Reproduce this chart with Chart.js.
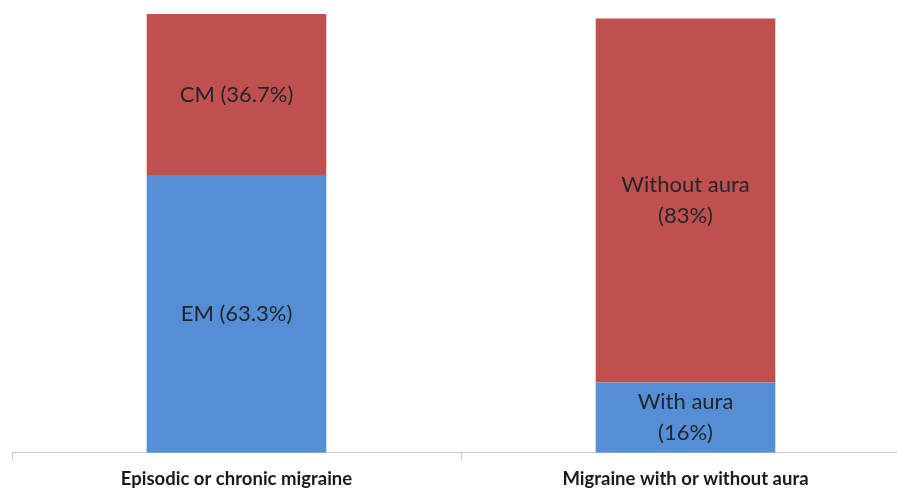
<!DOCTYPE html>
<html>
<head>
<meta charset="utf-8">
<script src="https://cdn.jsdelivr.net/npm/chart.js@4"></script>
<style>
  html, body { margin: 0; padding: 0; background: #fff; overflow: hidden; }
  #wrap { width: 897px; height: 490px; position: relative; overflow: hidden; }
</style>
</head>
<body>
<div id="wrap"><canvas id="c" width="910" height="502"></canvas></div>
<script>
// Migraine classification shares (%)
const categories = ['Episodic or chronic migraine', 'Migraine with or without aura'];
const lowerValues = [63.3, 16];
const upperValues = [36.7, 83];
const lowerLabels = [['EM (63.3%)'], ['With aura', '(16%)']];
const upperLabels = [['CM (36.7%)'], ['Without aura', '(83%)']];

const BLUE = '#558ed5';
const RED = '#c0504d';

// Draws each segment's text centred inside its bar
const segmentText = {
  id: 'segmentText',
  afterDatasetsDraw(chart) {
    const ctx = chart.ctx;
    ctx.save();
    ctx.font = '22px Lato, "Open Sans", sans-serif';
    ctx.fillStyle = '#22252c';
    ctx.textAlign = 'center';
    ctx.textBaseline = 'middle';
    const lineH = 31;
    chart.data.datasets.forEach((ds, di) => {
      chart.getDatasetMeta(di).data.forEach((bar, i) => {
        const lines = ds.segmentLabels[i];
        const cy = (bar.y + bar.base) / 2;
        const y0 = cy - (lines.length - 1) * lineH / 2;
        lines.forEach((t, k) => ctx.fillText(t, bar.x, y0 + k * lineH));
      });
    });
    ctx.restore();
  }
};

new Chart(document.getElementById('c'), {
  type: 'bar',
  data: {
    labels: categories,
    datasets: [
      { data: lowerValues, backgroundColor: BLUE, segmentLabels: lowerLabels },
      { data: upperValues, backgroundColor: RED, segmentLabels: upperLabels }
    ]
  },
  options: {
    responsive: false,
    animation: false,
    layout: { padding: { left: 12, right: 0, top: 14, bottom: 4 } },
    plugins: { legend: { display: false }, tooltip: { enabled: false } },
    datasets: { bar: { categoryPercentage: 1, barPercentage: 0.4 } },
    scales: {
      x: {
        stacked: true,
        grid: { offset: true, drawOnChartArea: false, drawTicks: true, tickLength: 7, color: '#c8c8c8' },
        border: { display: true, color: '#c8c8c8', width: 1 },
        ticks: {
          color: '#1a1a1a',
          padding: 8,
          font: { family: 'Lato, "Open Sans", sans-serif', size: 18.5, weight: 'bold' }
        }
      },
      y: {
        stacked: true,
        display: false,
        min: 0,
        max: 100
      }
    }
  },
  plugins: [segmentText]
});
</script>
</body>
</html>
